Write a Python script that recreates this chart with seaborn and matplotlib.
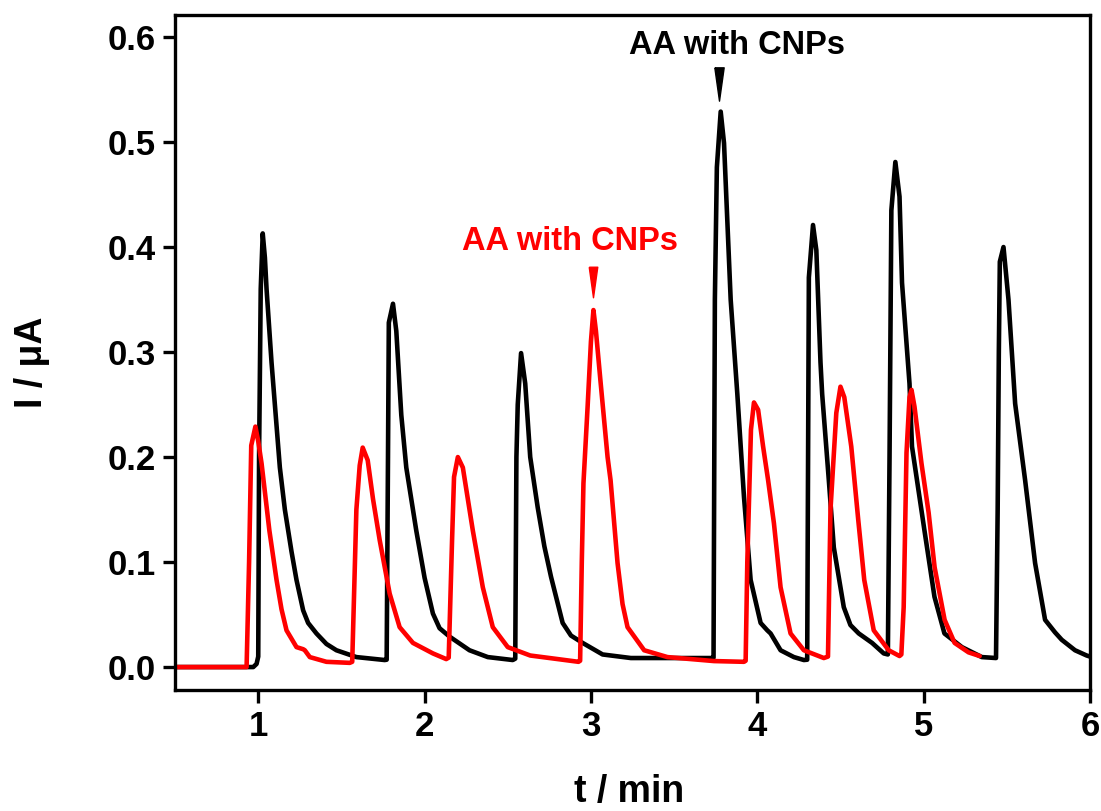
import matplotlib
matplotlib.use("Agg")
import matplotlib.pyplot as plt
import seaborn as sns
import pandas as pd

# ---- data (t in min, I in uA) ----
black_t = [0.5, 0.97, 0.99, 1.0, 1.005, 1.015, 1.027, 1.04, 1.05, 1.08, 1.13, 1.16, 1.2, 1.23, 1.27, 1.30, 1.35, 1.41, 1.47, 1.59, 1.76,
           1.772, 1.78, 1.785, 1.81, 1.83, 1.86, 1.89, 1.95, 2.0, 2.05, 2.09, 2.15, 2.27, 2.38, 2.53,
           2.545, 2.552, 2.56, 2.58, 2.605, 2.635, 2.68, 2.72, 2.76, 2.83, 2.88, 2.95, 3.07, 3.24, 3.72,
           3.737, 3.745, 3.757, 3.78, 3.80, 3.84, 3.88, 3.92, 3.96, 4.02, 4.06, 4.08, 4.14, 4.22, 4.28,
           4.30, 4.31, 4.335, 4.355, 4.38, 4.39, 4.43, 4.46, 4.52, 4.56, 4.61, 4.69, 4.76, 4.785,
           4.795, 4.806, 4.83, 4.855, 4.87, 4.915, 4.93, 5.005, 5.065, 5.125, 5.23, 5.35, 5.435,
           5.445, 5.452, 5.458, 5.48, 5.51, 5.55, 5.61, 5.67, 5.73, 5.79, 5.83, 5.91, 5.98, 6.0]
black_i = [0.0, 0.0, 0.003, 0.01, 0.2, 0.36, 0.413, 0.39, 0.36, 0.29, 0.19, 0.15, 0.11, 0.083, 0.054, 0.042, 0.032, 0.022, 0.016, 0.0095, 0.0067,
           0.007, 0.2, 0.328, 0.346, 0.32, 0.24, 0.19, 0.13, 0.085, 0.051, 0.037, 0.029, 0.016, 0.0095, 0.0067,
           0.008, 0.2, 0.25, 0.299, 0.27, 0.2, 0.152, 0.115, 0.086, 0.042, 0.03, 0.023, 0.012, 0.0086, 0.0086,
           0.009, 0.35, 0.476, 0.529, 0.499, 0.35, 0.26, 0.162, 0.083, 0.042, 0.035, 0.032, 0.016, 0.0095, 0.0067,
           0.007, 0.371, 0.421, 0.397, 0.29, 0.26, 0.178, 0.114, 0.057, 0.04, 0.032, 0.023, 0.013, 0.012,
           0.2, 0.435, 0.481, 0.448, 0.366, 0.27, 0.21, 0.13, 0.067, 0.032, 0.019, 0.0095, 0.0086,
           0.15, 0.3, 0.386, 0.40, 0.35, 0.251, 0.178, 0.099, 0.045, 0.033, 0.026, 0.016, 0.011, 0.01]

red_t = [0.5, 0.93, 0.945, 0.958, 0.983, 1.0, 1.02, 1.067, 1.11, 1.14, 1.17, 1.23, 1.27, 1.28, 1.31, 1.41, 1.55, 1.565,
         1.59, 1.61, 1.628, 1.658, 1.69, 1.73, 1.79, 1.85, 1.93, 2.05, 2.13, 2.145,
         2.165, 2.177, 2.2, 2.23, 2.29, 2.35, 2.41, 2.5, 2.635, 2.8, 2.925,
         2.935, 2.945, 2.955, 2.98, 3.0, 3.015, 3.03, 3.057, 3.1, 3.118, 3.16, 3.19, 3.22, 3.32, 3.46, 3.74, 3.92,
         3.93, 3.94, 3.962, 3.98, 4.005, 4.035, 4.065, 4.1, 4.14, 4.2, 4.28, 4.40, 4.425,
         4.44, 4.475, 4.5, 4.523, 4.565, 4.607, 4.643, 4.70, 4.79, 4.855, 4.866,
         4.88, 4.897, 4.915, 4.927, 4.945, 4.987, 5.03, 5.066, 5.126, 5.186, 5.27, 5.337]
red_i = [0.0, 0.0, 0.1, 0.211, 0.229, 0.215, 0.194, 0.13, 0.083, 0.055, 0.035, 0.019, 0.017, 0.016, 0.0095, 0.005, 0.004, 0.005,
         0.15, 0.192, 0.209, 0.197, 0.16, 0.121, 0.07, 0.038, 0.023, 0.013, 0.0076, 0.009,
         0.12, 0.181, 0.2, 0.19, 0.13, 0.076, 0.038, 0.019, 0.011, 0.0076, 0.005,
         0.006, 0.1, 0.175, 0.248, 0.31, 0.34, 0.32, 0.273, 0.2, 0.178, 0.099, 0.06, 0.038, 0.016, 0.0095, 0.0057, 0.005,
         0.006, 0.1, 0.226, 0.252, 0.245, 0.21, 0.178, 0.137, 0.076, 0.032, 0.016, 0.0086, 0.01,
         0.15, 0.242, 0.267, 0.257, 0.21, 0.14, 0.083, 0.035, 0.016, 0.0105, 0.012,
         0.057, 0.204, 0.257, 0.264, 0.248, 0.194, 0.147, 0.095, 0.045, 0.023, 0.014, 0.0105]

x_ticks = [1, 2, 3, 4, 5, 6]
y_ticks = [0.0, 0.1, 0.2, 0.3, 0.4, 0.5, 0.6]
annot_text = "AA with CNPs"
black_arrow = (3.769, 0.555)
red_arrow = (3.015, 0.367)

sns.set_style("ticks")
plt.rcParams['font.family'] = ['Liberation Sans', 'DejaVu Sans']
plt.rcParams['font.weight'] = 'bold'
plt.rcParams['text.color'] = 'black'
plt.rcParams['axes.labelcolor'] = 'black'
plt.rcParams['xtick.color'] = 'black'
plt.rcParams['ytick.color'] = 'black'

fig = plt.figure(figsize=(11.01, 8.11), dpi=100)
ax = fig.add_axes([0.159, 0.149, 0.831, 0.8325])

df_b = pd.DataFrame({"t": black_t, "I": black_i})
df_r = pd.DataFrame({"t": red_t, "I": red_i})
sns.lineplot(data=df_b, x="t", y="I", color="black", linewidth=3.3, sort=False, estimator=None, ax=ax)
sns.lineplot(data=df_r, x="t", y="I", color="#ff0000", linewidth=3.3, sort=False, estimator=None, ax=ax)
for ln in ax.lines:
    ln.set_linewidth(3.3)
    ln.set_solid_joinstyle('round')

ax.set_xlim(0.5, 6.0)
ax.set_ylim(-0.022, 0.621)
ax.set_xticks(x_ticks)
ax.set_xticklabels([str(v) for v in x_ticks])
ax.set_yticks(y_ticks)
ax.set_yticklabels([f"{v:.1f}" for v in y_ticks])
for s in ax.spines.values():
    s.set_linewidth(2.4)
    s.set_color("black")
ax.tick_params(axis='both', direction='out', length=9, width=2.4, labelsize=25, pad=5, colors='black')
ax.tick_params(top=False, right=False)
for lab in ax.get_xticklabels() + ax.get_yticklabels():
    lab.set_fontweight('bold')

ax.set_xlabel("t / min", fontsize=27, fontweight='bold')
ax.set_ylabel("I / μA", fontsize=27, fontweight='bold')
ax.xaxis.set_label_coords(0.496, -0.124)
ax.yaxis.set_label_coords(-0.137, 0.486)

tri = [(-0.28, 1.0), (0.28, 1.0), (0.0, -1.0), (-0.28, 1.0)]
ax.plot([black_arrow[0]], [black_arrow[1]], marker=tri, markersize=24, color="black", linestyle="none")
ax.plot([red_arrow[0]], [red_arrow[1]], marker=tri, markersize=22, color="#ff0000", linestyle="none")

ax.text(3.878, 0.592, annot_text, fontsize=23.5, fontweight='bold', color='black', ha='center', va='center')
ax.text(2.876, 0.405, annot_text, fontsize=23.5, fontweight='bold', color='#ff0000', ha='center', va='center')

fig.savefig("out.png", dpi=100)
